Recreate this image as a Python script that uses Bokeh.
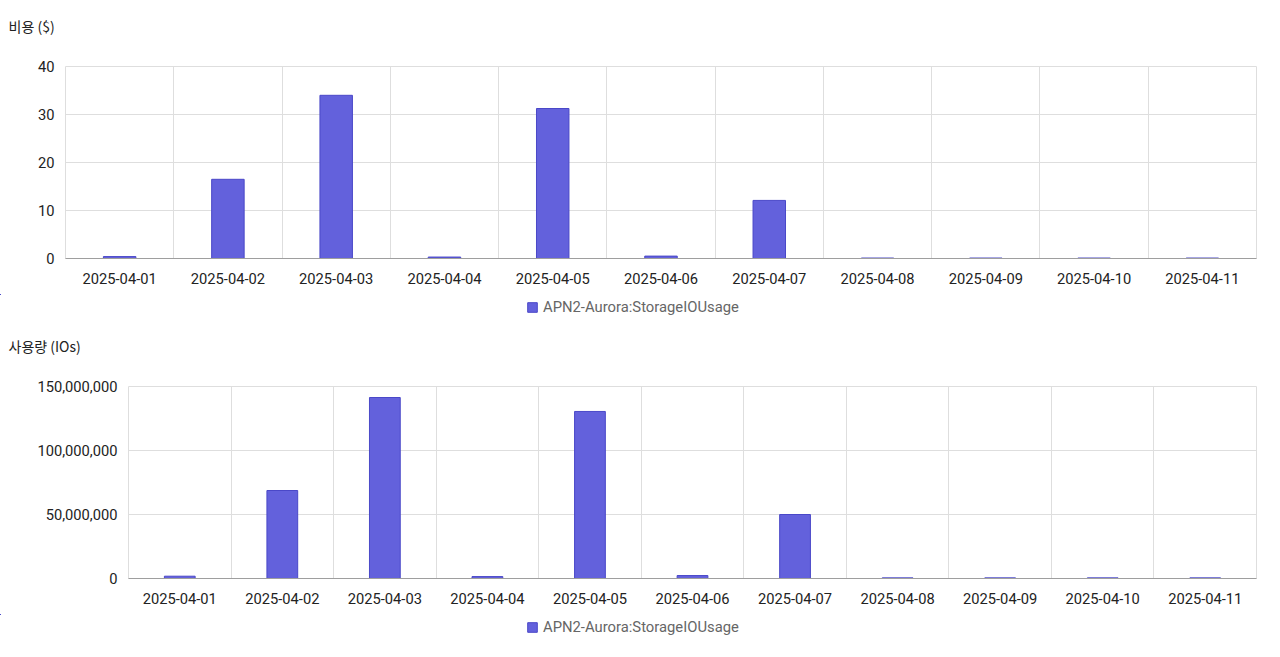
from bokeh.plotting import figure
from bokeh.models import FixedTicker, NumeralTickFormatter, Legend, LegendItem, ColumnDataSource
from bokeh.embed import file_html
from bokeh.resources import INLINE

dates = ["2025-04-01", "2025-04-02", "2025-04-03", "2025-04-04", "2025-04-05", "2025-04-06",
         "2025-04-07", "2025-04-08", "2025-04-09", "2025-04-10", "2025-04-11"]
cost = [0.4, 16.5, 34.0, 0.3, 31.25, 0.5, 12.1, 0.1, 0.1, 0.1, 0.1]
usage = [1.8e6, 68.75e6, 141.4e6, 1.5e6, 130.5e6, 2.3e6, 50.0e6, 0.5e6, 0.5e6, 0.5e6, 0.5e6]
series_name = "APN2-Aurora:StorageIOUsage"
cost_ticks = [0, 10, 20, 30, 40]
usage_ticks = [0, 50_000_000, 100_000_000, 150_000_000]

BAR = "#6361dc"
BAR_LINE = "#4a48c8"
GRID = "#dedede"
FONT = "Roboto"
KFONT = "Noto Sans CJK KR"
FS = "14.7px"
W = 1272

idx = list(range(len(dates)))
src = ColumnDataSource(dict(x=idx, cost=cost, usage=usage))


def make(title, field, ymax, yticks, left):
    p = figure(width=W, height=294, output_backend="svg", toolbar_location=None,
               x_range=(-0.5, len(dates) - 0.5), y_range=(0, ymax),
               min_border_left=left, min_border_right=16, min_border_top=66, min_border_bottom=36)
    p.title.text = title + "\n"
    p.title.align = "left"
    p.title.vertical_align = "bottom"
    p.title.offset = -(left - 8)
    p.title.standoff = 22
    p.title.text_font = KFONT
    p.title.text_font_size = "14px"
    p.title.text_font_style = "normal"
    p.title.text_color = "#222222"
    p.vbar(x="x", top=field, width=0.3, source=src, fill_color=BAR, line_color=BAR_LINE, line_width=1)
    p.outline_line_color = GRID
    p.background_fill_color = "white"
    p.border_fill_color = "white"
    # x axis
    p.xaxis.ticker = FixedTicker(ticks=idx)
    p.xaxis.major_label_overrides = {i: d for i, d in enumerate(dates)}
    p.xgrid.ticker = FixedTicker(ticks=[i - 0.5 for i in range(len(dates) + 1)])
    p.xgrid.grid_line_color = GRID
    p.xaxis.axis_line_color = "#9e9e9e"
    p.xaxis.major_tick_line_color = None
    p.xaxis.minor_tick_line_color = None
    p.xaxis.major_tick_out = 0
    p.xaxis.major_tick_in = 0
    p.xaxis.major_label_standoff = 14
    p.xaxis.major_label_text_font = FONT
    p.xaxis.major_label_text_font_size = FS
    p.xaxis.major_label_text_color = "#222222"
    # y axis
    p.yaxis.ticker = FixedTicker(ticks=yticks)
    p.yaxis.formatter = NumeralTickFormatter(format="0,0")
    p.ygrid.ticker = FixedTicker(ticks=yticks)
    p.ygrid.grid_line_color = GRID
    p.yaxis.axis_line_color = None
    p.yaxis.major_tick_line_color = None
    p.yaxis.minor_tick_line_color = None
    p.yaxis.major_tick_out = 0
    p.yaxis.major_tick_in = 0
    p.yaxis.major_label_standoff = 11
    p.yaxis.major_label_text_font = FONT
    p.yaxis.major_label_text_font_size = FS
    p.yaxis.major_label_text_color = "#222222"
    return p


def legend_fig(field, ymax, legend_x):
    # legend strip: its renderer lies outside the visible ranges, only the legend shows
    lf = figure(width=W, height=26, output_backend="svg", toolbar_location=None,
                x_range=(20, 21), y_range=(-2 * ymax, -ymax),
                x_axis_type=None, y_axis_type=None,
                min_border_left=0, min_border_right=0, min_border_top=0, min_border_bottom=0)
    lf.outline_line_color = None
    lf.xgrid.visible = False
    lf.ygrid.visible = False
    lf.background_fill_color = "white"
    lf.border_fill_color = "white"
    r = lf.vbar(x="x", top=field, width=0.3, source=src, fill_color=BAR, line_color=BAR_LINE, line_width=1)
    leg = Legend(items=[LegendItem(label=series_name, renderers=[r])], location=(legend_x, 4),
                 orientation="horizontal", padding=0, margin=0, glyph_width=12, glyph_height=12,
                 label_height=17, label_standoff=5, border_line_color=None,
                 background_fill_alpha=0, label_text_font=FONT, label_text_font_size="14.8px",
                 label_text_color="#666666")
    lf.add_layout(leg, "center")
    return lf


p1 = make("비용 ($)", "cost", 40, cost_ticks, 65)
l1 = legend_fig("cost", 40, 526)
p2 = make("사용량 (IOs)", "usage", 150_000_000, usage_ticks, 128)
l2 = legend_fig("usage", 150_000_000, 526)
open("out.html", "w").write(file_html([p1, l1, p2, l2], INLINE))
